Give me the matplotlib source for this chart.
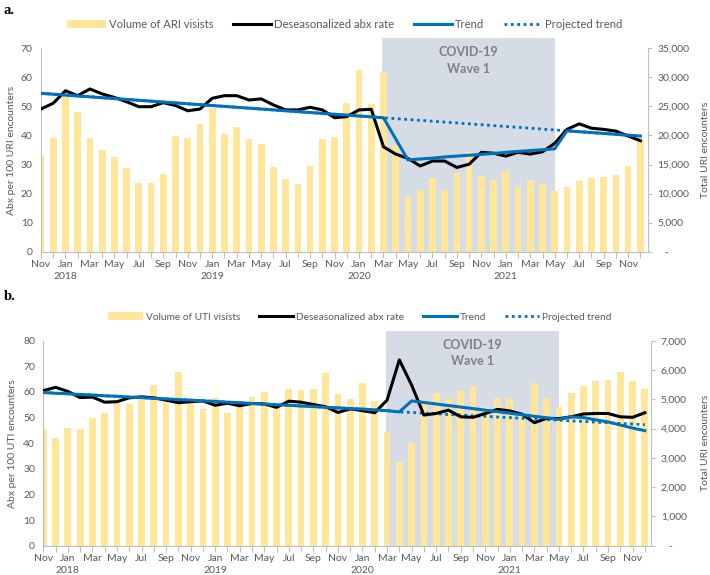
import matplotlib
matplotlib.use("Agg")
import matplotlib.pyplot as plt
import numpy as np
from matplotlib.patches import Patch, Rectangle
from matplotlib.lines import Line2D
import matplotlib.ticker as mticker
import matplotlib.transforms as mtrans

plt.rcParams['font.family'] = ['Lato', 'DejaVu Sans']

# ---- categories: monthly, Nov 2017 .. Dec 2021 (50 months) ----
month_tick_labels = ["Nov", "Jan", "Mar", "May", "Jul", "Sep", "Nov", "Jan", "Mar", "May",
                     "Jul", "Sep", "Nov", "Jan", "Mar", "May", "Jul", "Sep", "Nov", "Jan",
                     "Mar", "May", "Jul", "Sep", "Nov"]
year_labels = ["2018", "2019", "2020", "2021"]
year_label_month_index = [2, 14, 26, 38]
n_months = 50

# ---- panel a: ARI ----
ari_volume = [16450, 19500, 26700, 24100, 19600, 17450, 16300, 14350, 11900, 11750,
              13300, 19950, 19500, 22000, 24650, 20250, 21500, 19350, 18550, 14550,
              12550, 11600, 14750, 19350, 19800, 25650, 31250, 25400, 30850, 18350,
              9650, 10600, 12750, 10600, 13600, 17200, 13000, 12350, 13900, 11050,
              12350, 11700, 10400, 11200, 12100, 12700, 12900, 13200, 14800, 19300]
ari_rate = [49.1, 51.1, 55.4, 53.7, 56.0, 54.3, 53.1, 51.6, 49.9, 49.9,
            51.3, 50.3, 48.5, 49.1, 52.8, 53.7, 53.7, 52.2, 52.6, 50.5,
            48.8, 48.8, 49.7, 48.8, 46.1, 46.5, 48.8, 49.0, 36.1, 33.6,
            32.1, 29.5, 31.2, 31.2, 29.0, 30.1, 34.2, 33.9, 32.9, 34.2,
            33.6, 34.4, 37.3, 42.1, 44.0, 42.5, 42.1, 41.5, 39.8, 38.2]
ari_trend = [54.5, 54.2, 53.9, 53.6, 53.3, 53.0, 52.7, 52.4, 52.1, 51.8,
             51.5, 51.2, 50.9, 50.6, 50.3, 50.0, 49.7, 49.4, 49.1, 48.8,
             48.5, 48.2, 47.9, 47.6, 47.3, 47.0, 46.7, 46.4, 46.1, 38.8,
             31.6, 31.9, 32.2, 32.6, 32.9, 33.2, 33.5, 33.8, 34.2, 34.5,
             34.8, 35.1, 35.4, 41.6, 41.3, 41.0, 40.7, 40.4, 40.1, 39.8]
ari_projected = [54.5, 54.2, 53.9, 53.6, 53.3, 53.0, 52.7, 52.4, 52.1, 51.8,
                 51.5, 51.2, 50.9, 50.6, 50.3, 50.0, 49.7, 49.4, 49.1, 48.8,
                 48.5, 48.2, 47.9, 47.6, 47.3, 47.0, 46.7, 46.4, 46.1, 45.8,
                 45.5, 45.2, 44.9, 44.6, 44.3, 44.0, 43.7, 43.4, 43.1, 42.8,
                 42.5, 42.2, 41.9, 41.6, 41.3, 41.0, 40.7, 40.4, 40.1, 39.8]

# ---- panel b: UTI ----
uti_volume = [3970, 3685, 4030, 3970, 4370, 4540, 4880, 4840, 5010, 5490,
              4950, 5920, 4920, 4655, 5030, 4540, 4770, 5070, 5250, 4750,
              5350, 5320, 5350, 5890, 5190, 5000, 5570, 4950, 3890, 2870,
              3520, 5000, 5200, 5000, 5290, 5450, 4750, 5030, 5000, 4500,
              5565, 5030, 4745, 5220, 5450, 5630, 5650, 5940, 5630, 5350]
uti_rate = [60.5, 61.8, 60.2, 57.8, 58.0, 56.0, 56.2, 57.7, 58.1, 57.7,
            56.8, 55.8, 56.2, 56.5, 54.8, 55.6, 54.6, 55.5, 55.3, 54.0,
            56.4, 56.0, 55.1, 54.2, 52.0, 53.4, 52.7, 51.9, 56.8, 72.5,
            62.7, 51.0, 51.6, 52.9, 50.3, 50.1, 51.6, 53.2, 52.6, 51.3,
            48.0, 49.7, 49.6, 50.3, 51.4, 51.6, 51.6, 50.3, 50.1, 51.9]
uti_trend = [59.8, 59.5, 59.3, 59.0, 58.8, 58.5, 58.3, 58.0, 57.8, 57.5,
             57.3, 57.0, 56.8, 56.5, 56.3, 56.0, 55.8, 55.5, 55.3, 55.0,
             54.8, 54.5, 54.3, 54.0, 53.8, 53.5, 53.3, 53.0, 52.7, 52.2,
             56.5, 55.9, 55.3, 54.7, 54.1, 53.5, 52.9, 52.3, 51.7, 51.1,
             50.5, 49.9, 49.3, 50.3, 50.0, 49.1, 48.3, 47.1, 45.9, 44.9]
uti_projected = [59.8, 59.5, 59.3, 59.0, 58.8, 58.5, 58.3, 58.0, 57.8, 57.5,
                 57.3, 57.0, 56.8, 56.5, 56.3, 56.0, 55.8, 55.5, 55.3, 55.0,
                 54.8, 54.5, 54.3, 54.0, 53.8, 53.5, 53.3, 53.0, 52.7, 52.2,
                 52.0, 51.7, 51.5, 51.2, 51.0, 50.7, 50.5, 50.2, 50.0, 49.7,
                 49.5, 49.2, 49.0, 48.7, 48.5, 48.2, 48.0, 47.7, 47.5, 47.2]

# wave 1 period (month index)
wave_start, wave_end = 27.9, 42.0

BAR = '#FFE699'
BLUE = '#0070C0'
SHADE = '#D6DCE5'
GRAY_TXT = '#595959'
AX_COL = '#BFBFBF'

W, H = 710, 575
fig = plt.figure(figsize=(W / 100, H / 100), dpi=100)


def px_rect(x0, x1, ytop, ybot):
    return [x0 / W, 1 - ybot / H, (x1 - x0) / W, (ybot - ytop) / H]


def panel(rect, volume, rate, trend, proj, lmax, rmax, rstep, ylab_l, ylab_r,
          shade_top, leg_labels, leg_xy, leg_fs, colsp, letter, letter_y, xmax, ylab_lx, ylab_rx):
    ax = fig.add_axes(rect)
    axr = ax.twinx()
    ax.set_zorder(axr.get_zorder() + 1)
    ax.patch.set_visible(False)
    x = np.arange(n_months)

    # shading
    tr = mtrans.blended_transform_factory(axr.transData, axr.transAxes)
    axr.add_patch(Rectangle((wave_start, 0), wave_end - wave_start, shade_top,
                            transform=tr, facecolor=SHADE, edgecolor='none',
                            clip_on=False, zorder=0))
    axr.bar(x, volume, width=0.55, color=BAR, zorder=2)
    axr.set_ylim(0, rmax)
    axr.set_yticks(np.arange(0, rmax + 1, rstep))
    axr.yaxis.set_major_formatter(mticker.FuncFormatter(
        lambda v, p: '   -' if v == 0 else f'{v:,.0f}'))

    ax.plot(x, proj, color=BLUE, lw=2.0, linestyle=(0, (1, 1.3)), zorder=3)
    ax.plot(x, rate, color='black', lw=2.2, zorder=4, solid_joinstyle='round')
    ax.plot(x, trend, color=BLUE, lw=2.2, zorder=5, solid_joinstyle='round')
    ax.set_ylim(0, lmax)
    ax.set_yticks(np.arange(0, lmax + 1, 10))
    ax.set_xlim(0, xmax)

    ax.set_xticks(x)
    labs = []
    k = 0
    for i in range(n_months):
        if i % 2 == 0:
            labs.append(month_tick_labels[k]); k += 1
        else:
            labs.append('')
    ax.set_xticklabels(labs)
    ax.tick_params(axis='x', length=4, color=AX_COL, labelsize=7.5, labelcolor=GRAY_TXT, pad=2)
    ax.tick_params(axis='y', length=0, labelsize=7.5, labelcolor=GRAY_TXT, pad=6)
    axr.tick_params(axis='y', length=3, color=AX_COL, labelsize=7.5, labelcolor=GRAY_TXT, pad=4)

    for s in ['top', 'right']:
        ax.spines[s].set_visible(False)
    for s in ['top', 'left', 'bottom']:
        axr.spines[s].set_visible(False)
    ax.spines['left'].set_color(AX_COL)
    ax.spines['bottom'].set_color(AX_COL)
    axr.spines['right'].set_color(AX_COL)

    for yl, pos in zip(year_labels, year_label_month_index):
        ax.annotate(yl, xy=(pos, 0), xycoords=('data', 'axes fraction'),
                    xytext=(0, -17.5), textcoords='offset points',
                    ha='center', va='center', fontsize=7.5, color=GRAY_TXT)

    ax.text(ylab_lx, 0.5, ylab_l, rotation=90, ha='center', va='center',
            transform=ax.transAxes, fontsize=7.5, color=GRAY_TXT)
    axr.text(ylab_rx, 0.5, ylab_r, rotation=90, ha='center', va='center',
             transform=axr.transAxes, fontsize=7.5, color=GRAY_TXT)

    xc = (wave_start + wave_end) / 2
    ax.text(xc, 0.98, 'COVID-19', transform=tr, ha='center', va='center',
            fontsize=9, fontweight='bold', color='#7F7F7F')
    ax.text(xc, 0.90, 'Wave 1', transform=tr, ha='center', va='center',
            fontsize=9, fontweight='bold', color='#7F7F7F')

    handles = [Patch(facecolor=BAR, edgecolor='none'),
               Line2D([], [], color='black', lw=2.2),
               Line2D([], [], color=BLUE, lw=2.2),
               Line2D([], [], color=BLUE, lw=2.0, linestyle=(0, (1, 1.3)))]
    leg = fig.legend(handles, leg_labels, loc='center', bbox_to_anchor=leg_xy,
                     ncol=4, frameon=False, fontsize=leg_fs, handlelength=3.4,
                     handletextpad=0.3, columnspacing=colsp, borderpad=0)
    for t in leg.get_texts():
        t.set_color(GRAY_TXT)

    fig.text(4 / W, 1 - letter_y / H, letter, family='Liberation Serif',
             fontweight='bold', fontsize=10.5, va='center', ha='left')
    return ax, axr


panel(px_rect(41, 647.7, 48.3, 251.7), ari_volume, ari_rate, ari_trend, ari_projected,
      70, 35000, 5000, 'Abx per 100 URI encounters', 'Total URI encounters',
      1.049, ['Volume of ARI visists', 'Deseasonalized abx rate', 'Trend', 'Projected trend'],
      (345 / W, 1 - 24 / H), 8.1, 1.7, 'a.', 10, 49.6, -0.048, 1.095)

panel(px_rect(43.3, 651, 340.7, 545.7), uti_volume, uti_rate, uti_trend, uti_projected,
      80, 7000, 1000, 'Abx per 100 UTI encounters', 'Total URI encounters',
      1.047, ['Volume of UTI visists', 'Deseasonalized abx rate', 'Trend', 'Projected trend'],
      (360 / W, 1 - 317 / H), 7.3, 1.8, 'b.', 297, 49.5, -0.05, 1.09)

fig.savefig('out.png', dpi=100)
